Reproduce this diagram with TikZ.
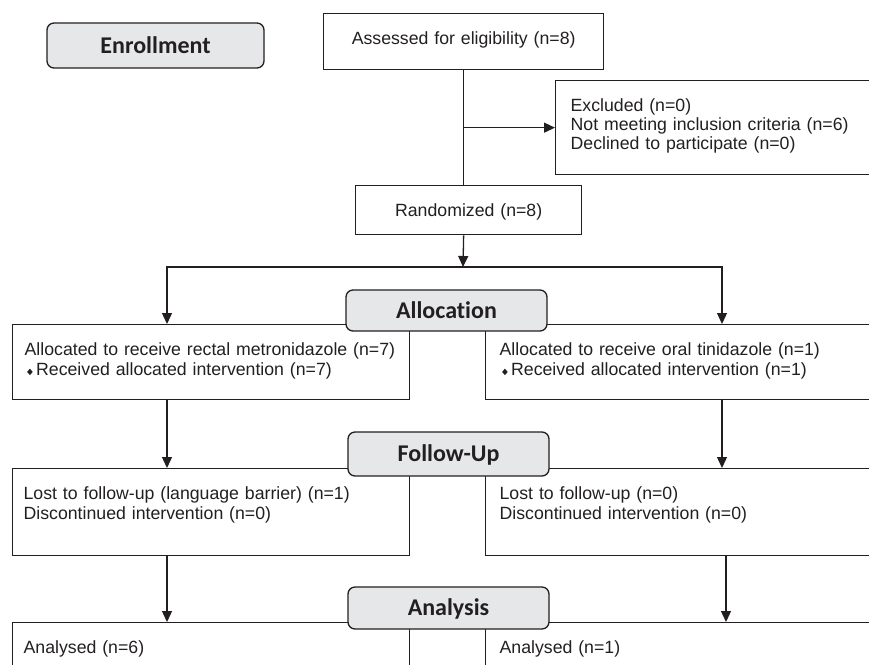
\documentclass[tikz,border=0pt]{standalone}
\usepackage{fontspec}
\setmainfont{Liberation Sans}
\newfontfamily\hdfont[Ligatures=NoCommon]{Carlito}
\usetikzlibrary{arrows.meta}
\definecolor{ln}{HTML}{231F20}
\definecolor{hdfill}{HTML}{E6E7E8}
\newcommand\dia{\hspace{2.5pt}\raisebox{0.5pt}{\scalebox{0.85}[1]{\rotatebox{45}{\rule{4.6pt}{4.6pt}}}}\hspace{3.5pt}}
\tikzset{
  box/.style={draw=ln, line width=1.3pt, rectangle, inner ysep=0pt, inner xsep=13pt,
    align=left, font=\fontsize{17.7}{20}\selectfont, text=ln, anchor=north west,
    text height=31pt},
  hdr/.style={draw=ln, fill=hdfill, line width=1.3pt, rounded corners=7pt,
    font=\hdfont\bfseries\fontsize{24}{26}\selectfont, text=ln, inner sep=0pt,
    text height=15.5pt, text depth=0pt},
  conn/.style={draw=ln, line width=1.3pt},
  arr/.style={conn, -{Triangle[width=10pt,length=11pt]}}
}
\begin{document}
\begin{tikzpicture}[x=1pt,y=-1pt]
\useasboundingbox (0,0) rectangle (869,664);
\clip (0,0) rectangle (869,664);
% boxes
\node[box, align=center, inner xsep=0pt, text width=280pt, text depth=25pt] (assess) at (323,13) {Assessed for eligibility (n=8)};
\node[box, inner xsep=15pt, text width=300pt, text depth=63pt, font=\fontsize{17.7}{18.8}\selectfont] (excl) at (555,80) {Excluded (n=0)\\Not meeting inclusion criteria (n=6)\\Declined to participate (n=0)};
\node[box, align=center, inner xsep=0pt, text width=226pt, text depth=18pt] (rand) at (355,185) {Randomized (n=8)};
\node[box, inner xsep=12pt, text width=373pt, text depth=44pt] (lal) at (12,324) {Allocated to receive rectal metronidazole (n=7)\\\dia Received allocated intervention (n=7)};
\node[box, inner xsep=14pt, text width=372pt, text depth=44pt] (ral) at (485,324) {Allocated to receive oral tinidazole (n=1)\\\dia Received allocated intervention (n=1)};
\node[box, inner xsep=11pt, text width=375pt, text depth=56pt] (lfu) at (12,468) {Lost to follow-up (language barrier) (n=1)\\Discontinued intervention (n=0)};
\node[box, inner xsep=14pt, text width=372pt, text depth=56pt] (rfu) at (485,468) {Lost to follow-up (n=0)\\Discontinued intervention (n=0)};
\node[box, inner xsep=11pt, text width=375pt, text depth=40pt] (lan) at (12,622) {Analysed (n=6)};
\node[box, inner xsep=14pt, text width=372pt, text depth=40pt] (ran) at (485,622) {Analysed (n=1)};
% column coordinates
\coordinate (split) at (463,267);
\coordinate (lcol) at (167,0);
\coordinate (rcol) at (722,0);
\coordinate (rcolb) at (726,0);
% connectors
\draw[conn] (assess.south) -- (assess.south |- rand.north);
\draw[arr] (assess.south |- excl.west) -- (excl.west);
\draw[arr] (rand.south -| assess.south) -- (split);
\draw[arr] (split) -| (lal.north -| lcol);
\draw[arr] (split) -| (ral.north -| rcol);
\draw[arr] (lal.south -| lcol) -- (lfu.north -| lcol);
\draw[arr] (ral.south -| rcol) -- (rfu.north -| rcol);
\draw[arr] (lfu.south -| lcol) -- (lan.north -| lcol);
\draw[arr] (rfu.south -| rcolb) -- (ran.north -| rcolb);
% headers
\node[hdr, minimum width=217pt, minimum height=45pt] (enroll) at (155.5,45.5) {Enrollment};
\node[hdr, minimum width=201pt, minimum height=41pt] (alloc) at (446.5,310.5) {Allocation};
\node[hdr, minimum width=201pt, minimum height=44pt] (fu) at (448.5,454) {Follow-Up};
\node[hdr, minimum width=201pt, minimum height=42pt] (an) at (448.5,608) {Analysis};
\end{tikzpicture}
\end{document}
